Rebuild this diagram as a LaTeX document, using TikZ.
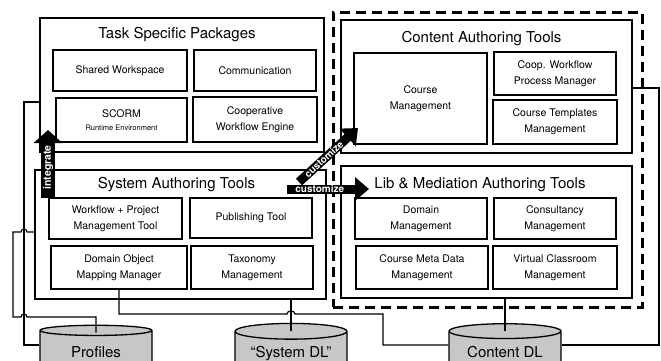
\documentclass[tikz,border=0pt]{standalone}
\usepackage{fontspec}
\setmainfont{TeX Gyre Heros}
\usetikzlibrary{shapes.geometric, arrows.meta}

\begin{document}
\begin{tikzpicture}[x=1pt, y=-1pt, line width=1.3pt,
		group/.style={draw, rectangle},
		box/.style={draw, rectangle, align=center, font=\fontsize{10.5}{16}\selectfont},
		title/.style={anchor=base, font=\fontsize{15}{17}\selectfont},
		db/.style={draw, cylinder, shape border rotate=90, aspect=0.18, fill=black!22,
			minimum width=112pt, minimum height=50pt, font=\fontsize{15}{18}\selectfont},
		push/.style={line width=9pt, -{Triangle[width=23pt, length=14pt]}},
		pushtext/.style={text=white, inner sep=0pt, font=\bfseries\fontsize{10}{12}\selectfont},
		link/.style={line width=1.2pt}]
		\useasboundingbox (0,0) rectangle (661,360);
		\clip (0,0) rectangle (661,360);

		% Task specific packages
		\node[group, minimum width=284pt, minimum height=134pt] (task) at (182,85) {};
		\node[title] (tasktitle) at (177,38) {Task Specific Packages};
		\node[box, minimum width=134pt, minimum height=41pt] (share) at (120,70.5) {Shared Workspace};
		\node[box, minimum width=122pt, minimum height=41pt] (comm) at (255,70.5) {Communication};
		\node[box, minimum width=131pt, minimum height=44pt] (scorm) at (121.5,120) {SCORM\\[-3pt]{\fontsize{7.5}{9}\selectfont Runtime Environment}};
		\node[box, minimum width=124pt, minimum height=45pt] (engine) at (255,119.5) {Cooperative\\Workflow Engine};

		% System authoring tools
		\node[group, minimum width=291pt, minimum height=129pt] (sys) at (180.5,234.5) {};
		\node[title] (systitle) at (176.5,188) {System Authoring Tools};
		\node[box, minimum width=133pt, minimum height=41pt] (wf) at (115.5,218.5) {Workflow + Project\\Management Tool};
		\node[box, minimum width=122pt, minimum height=40pt] (pub) at (251,218) {Publishing Tool};
		\node[box, minimum width=136pt, minimum height=43pt] (dom) at (119,267.5) {Domain Object\\Mapping Manager};
		\node[box, minimum width=122pt, minimum height=43pt] (tax) at (252,267.5) {Taxonomy\\Management};

		% content side
		\node[draw, rectangle, line width=3pt, dash pattern=on 10pt off 6pt,
			minimum width=309pt, minimum height=295pt] (cluster) at (487.5,159.5) {};
		\node[group, minimum width=291pt, minimum height=133pt] (cat) at (486.5,86.5) {};
		\node[title] (cattitle) at (481.5,42) {Content Authoring Tools};
		\node[box, minimum width=133pt, minimum height=91pt] (course) at (420.5,98.5) {Course\\Management};
		\node[box, minimum width=122pt, minimum height=43pt] (coop) at (555,73.5) {Coop. Workflow\\Process Manager};
		\node[box, minimum width=124pt, minimum height=44pt] (tmpl) at (555,122) {Course Templates\\Management};

		\node[group, minimum width=291pt, minimum height=132pt] (lib) at (486.5,232) {};
		\node[title] (libtitle) at (480,188) {Lib \& Mediation Authoring Tools};
		\node[box, minimum width=132pt, minimum height=41pt] (domain) at (421,218.5) {Domain\\Management};
		\node[box, minimum width=122pt, minimum height=41pt] (consult) at (555,218.5) {Consultancy\\Management};
		\node[box, minimum width=132pt, minimum height=43pt] (meta) at (422,267.5) {Course Meta Data\\Management};
		\node[box, minimum width=124pt, minimum height=43pt] (virt) at (555,267.5) {Virtual Classroom\\Management};

		% data stores
		\node[db] (prof) at (96,354) {\raisebox{4pt}{Profiles}};
		\node[db] (sdl) at (291,354) {\raisebox{4pt}{``System DL''}};
		\node[db] (cdl) at (505,354) {\raisebox{4pt}{Content DL}};

		% connections
		\draw[link] ([yshift=-17pt]task.west) -- (24,102) -- (24,345) -- (prof.west |- 24,345);
		\draw[link] ([yshift=-8pt]prof.north) -- (96,317) -- (27,317)
			.. controls (27,313) and (21,313) .. (21,317) -- (13,317) -- (13,232) -- (21,232)
			.. controls (21,228) and (27,228) .. (27,232) -- (sys.west |- 27,232);
		\draw[link] (dom.south) -- (119,314) -- (287,314)
			.. controls (287,310) and (295,310) .. (295,314) -- (383,314) -- (383,345) -- (cdl.west |- 383,345);
		\draw[link] ([yshift=-8pt]sdl.north) -- (sdl.north |- sys.south);
		\draw[link] ([yshift=-8pt]cdl.north) -- (cdl.north |- lib.south);
		\draw[link] (cdl.east |- 659,345) -- (659,345) -- (659,88) -- (cat.east |- 659,88);

		% block arrows
		\coordinate (integ-from) at (48,198);
		\coordinate (integ-to) at (48,130);
		\coordinate (cust-from) at (287,189);
		\coordinate (cust-to) at (369,189);
		\coordinate (diag-from) at (299,182);
		\coordinate (diag-to) at (358,128);
		\draw[push, line width=14pt, -{Triangle[width=28pt, length=13pt]}] (integ-from) -- (integ-to)
			node[pushtext, pos=0.45, sloped, font=\bfseries\fontsize{10.5}{12}\selectfont] {integrate};
		\draw[push] (cust-from) -- (cust-to) node[pushtext, pos=0.4, sloped] {customize};
		\draw[push] (diag-from) -- (diag-to) node[pushtext, pos=0.42, sloped] {customize};
\end{tikzpicture}
\end{document}
